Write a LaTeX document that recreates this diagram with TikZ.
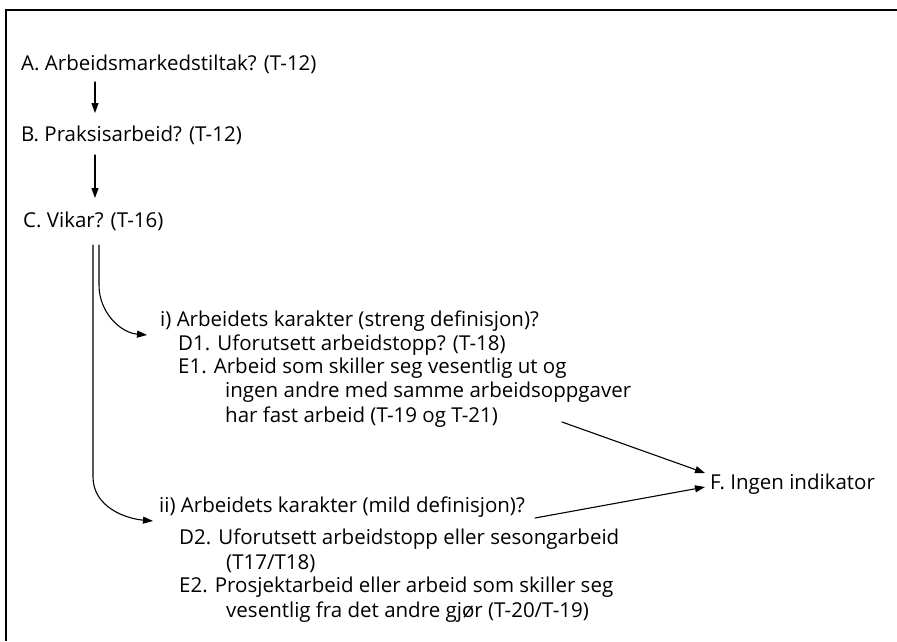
\documentclass[tikz,border=0pt]{standalone}
\usepackage{fontspec}
\setmainfont{Open Sans}
\usetikzlibrary{arrows.meta,positioning}
\tikzset{
  item/.style={anchor=base west,inner sep=0pt,align=left},
  flow/.style={-{Triangle[length=10pt,width=7pt]},line width=1.1pt},
  every picture/.style={line cap=round,line join=round}
}
\newcommand{\cont}{\hspace*{47pt}}

\begin{document}
\begin{tikzpicture}[x=1pt,y=-1pt,font=\fontsize{20.5}{24.5}\selectfont]
  \useasboundingbox (0,0) rectangle (897,641);
  \draw[line width=2.5pt,line cap=butt,line join=miter] (897,10) -- (6,10) -- (6,641);
  % main chain
  \node[item] (a) at (21,70) {A. Arbeidsmarkedstiltak? (T-12)};
  \node[item] (b) at (21,141) {B. Praksisarbeid? (T-12)};
  \node[item] (c) at (23,227) {C. Vikar? (T-16)};
  % strict definition (multi-line nodes sit on their last line)
  \node[item] (i) at (160,326) {i) Arbeidets karakter (streng definisjon)?};
  \node[item] (d1) at (178,350) {D1. Uforutsett arbeidstopp? (T-18)};
  \node[item] (e1) at (178,422) {E1. Arbeid som skiller seg vesentlig ut og\\
    \cont ingen andre med samme arbeidsoppgaver\\
    \cont har fast arbeid (T-19 og T-21)};
  % mild definition
  \node[item] (ii) at (159,512) {ii) Arbeidets karakter (mild definisjon)?};
  \node[item] (d2) at (179,569) {D2. Uforutsett arbeidstopp eller sesongarbeid\\
    \cont (T17/T18)};
  \node[item] (e2) at (179,617) {E2. Prosjektarbeid eller arbeid som skiller seg\\
    \cont vesentlig fra det andre gj\o r (T-20/T-19)};
  \node[item] (f) at (710,489) {F. Ingen indikator};
  \coordinate (e1out) at (562,422);
  % connectors
  \draw[flow] ([xshift=74pt,yshift=-12pt]a.base west) -- ([xshift=74pt,yshift=28pt]b.base west);
  \draw[flow] ([xshift=74pt,yshift=-14pt]b.base west) -- ([xshift=72pt,yshift=29pt]c.base west);
  \draw[flow] ([xshift=76pt,yshift=-18pt]c.base west) -- ++(0,40)
    to[out=-90,in=175] ([xshift=-13pt,yshift=-9pt]i.base west);
  \draw[flow] ([xshift=70pt,yshift=-18pt]c.base west) -- ++(0,232)
    to[out=-90,in=175] ([xshift=-6pt,yshift=-9pt]ii.base west);
  \draw[flow] (e1out) -- ([xshift=-5pt,yshift=16pt]f.base west);
  \draw[flow] ([xshift=10pt,yshift=-6pt]ii.base east) -- ([xshift=-5pt,yshift=2pt]f.base west);
\end{tikzpicture}
\end{document}
